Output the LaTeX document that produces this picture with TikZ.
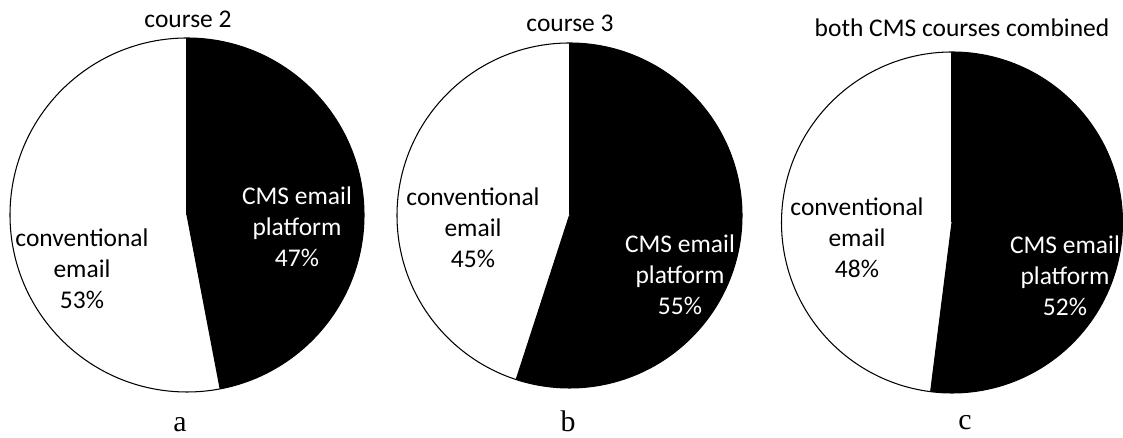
\documentclass[tikz,border=0pt]{standalone}
\usepackage{fontspec}
\setmainfont{Carlito}
\newfontfamily\subfont{Liberation Serif}
\usepackage{tikz}
\tikzstyle{rim}   = [draw=black, line width=0.6pt]
\tikzstyle{slice} = [fill=black]
\tikzstyle{title} = [font=\fontsize{14.5}{17}\selectfont, inner sep=0pt]
\tikzstyle{lbl}   = [align=center, font=\fontsize{14.5}{17.5}\selectfont, inner sep=0pt]
\tikzstyle{lblw}  = [lbl, text=white]
\tikzstyle{sub}   = [font=\fontsize{17}{20}\subfont, inner sep=0pt, anchor=base]

\begin{document}
\begin{tikzpicture}[x=0.02cm, y=0.02cm]
      \useasboundingbox (0,0) rectangle (1123,438);

      % course 2: 47% CMS
      \coordinate (Ca) at (187,223);
      \fill[white] (Ca) circle[radius=177];
      \fill[slice] (Ca) -- ++(90:177) arc[start angle=90, end angle=-79.2, radius=177] -- cycle;
      \draw[rim] (Ca) circle[radius=177];
      \draw[rim] (Ca) -- ++(90:177);
      \draw[rim] (Ca) -- ++(-79.2:177);
      \node(Ta)  [title] at (188,419) {course 2};
      \node(CMSa)[lblw]  at (297,211) {CMS email\\platform\\47\%};
      \node(Conva)[lbl]  at (82,169)  {conventional\\email\\53\%};
      \node(Sa)  [sub]   at (180,6)   {a};

      % course 3: 55% CMS
      \coordinate (Cb) at (569.5,222.5);
      \fill[white] (Cb) circle[radius=172.5];
      \fill[slice] (Cb) -- ++(90:172.5) arc[start angle=90, end angle=-108, radius=172.5] -- cycle;
      \draw[rim] (Cb) circle[radius=172.5];
      \draw[rim] (Cb) -- ++(90:172.5);
      \draw[rim] (Cb) -- ++(-108:172.5);
      \node(Tb)  [title] at (570,415) {course 3};
      \node(CMSb)[lblw]  at (680,163) {CMS email\\platform\\55\%};
      \node(Convb)[lbl]  at (473,210) {conventional\\email\\45\%};
      \node(Sb)  [sub]   at (568,6)   {b};

      % both courses: 52% CMS
      \coordinate (Cc) at (952,215.5);
      \fill[white] (Cc) circle[radius=170.5];
      \fill[slice] (Cc) -- ++(90:170.5) arc[start angle=90, end angle=-97.2, radius=170.5] -- cycle;
      \draw[rim] (Cc) circle[radius=170.5];
      \draw[rim] (Cc) -- ++(90:170.5);
      \draw[rim] (Cc) -- ++(-97.2:170.5);
      \node(Tc)  [title] at (962,410) {both CMS courses combined};
      \node(CMSc)[lblw]  at (1065,162) {CMS email\\platform\\52\%};
      \node(Convc)[lbl]  at (857,200) {conventional\\email\\48\%};
      \node(Sc)  [sub]   at (965,8)   {c};
    \end{tikzpicture}
\end{document}
